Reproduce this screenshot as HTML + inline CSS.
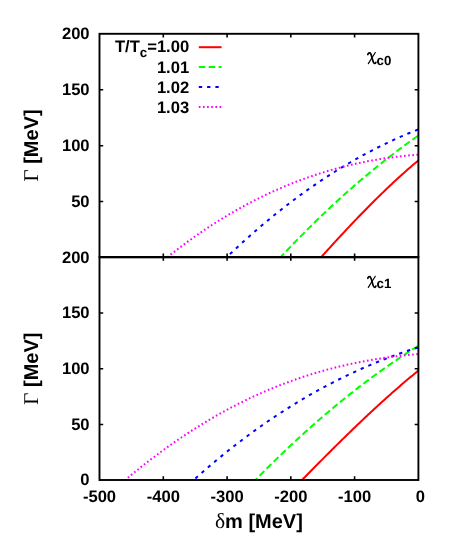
<!DOCTYPE html>
<html><head><meta charset="utf-8"><title>chart</title>
<style>html,body{margin:0;padding:0;background:#fff;}svg{display:block;will-change:transform;}text{font-family:"Liberation Sans",sans-serif;font-weight:bold;fill:#000;text-rendering:geometricPrecision;}.sym{font-family:"Liberation Serif",serif;font-weight:normal;}</style></head>
<body>
<svg width="467" height="550" viewBox="0 0 467 550">
<rect width="467" height="550" fill="#fff"/>
<g fill="none" stroke-width="2.0" stroke-linejoin="round">
<path d="M321.25,257.10 L322.48,255.73 L323.71,254.37 L324.94,253.00 L326.17,251.64 L327.40,250.29 L328.63,248.93 L329.86,247.58 L331.09,246.23 L332.32,244.88 L333.55,243.54 L334.78,242.19 L336.01,240.85 L337.24,239.52 L338.47,238.19 L339.70,236.86 L340.93,235.53 L342.16,234.20 L343.39,232.88 L344.62,231.57 L345.84,230.25 L347.07,228.94 L348.30,227.63 L349.53,226.33 L350.76,225.03 L351.99,223.73 L353.22,222.44 L354.45,221.15 L355.68,219.86 L356.91,218.58 L358.14,217.30 L359.37,216.02 L360.60,214.75 L361.83,213.48 L363.06,212.22 L364.29,210.96 L365.52,209.71 L366.75,208.46 L367.98,207.21 L369.21,205.97 L370.44,204.73 L371.67,203.50 L372.90,202.27 L374.13,201.04 L375.36,199.82 L376.59,198.61 L377.82,197.40 L379.05,196.19 L380.28,194.99 L381.51,193.79 L382.74,192.60 L383.97,191.41 L385.20,190.23 L386.43,189.05 L387.66,187.88 L388.89,186.71 L390.12,185.55 L391.35,184.40 L392.58,183.24 L393.81,182.10 L395.03,180.96 L396.26,179.82 L397.49,178.69 L398.72,177.57 L399.95,176.45 L401.18,175.34 L402.41,174.23 L403.64,173.13 L404.87,172.03 L406.10,170.94 L407.33,169.86 L408.56,168.78 L409.79,167.71 L411.02,166.64 L412.25,165.58 L413.48,164.53 L414.71,163.48 L415.94,162.44 L417.17,161.41 L418.40,160.38" stroke="#ff0000"/>
<path d="M280.70,257.10 L282.45,255.24 L284.19,253.39 L285.93,251.55 L287.68,249.71 L289.42,247.89 L291.16,246.07 L292.91,244.26 L294.65,242.46 L296.39,240.67 L298.13,238.88 L299.88,237.11 L301.62,235.34 L303.36,233.58 L305.11,231.83 L306.85,230.09 L308.59,228.35 L310.34,226.62 L312.08,224.91 L313.82,223.19 L315.56,221.49 L317.31,219.80 L319.05,218.11 L320.79,216.43 L322.54,214.77 L324.28,213.10 L326.02,211.45 L327.77,209.81 L329.51,208.17 L331.25,206.54 L332.99,204.92 L334.74,203.31 L336.48,201.70 L338.22,200.11 L339.97,198.52 L341.71,196.94 L343.45,195.37 L345.20,193.81 L346.94,192.25 L348.68,190.70 L350.42,189.17 L352.17,187.64 L353.91,186.11 L355.65,184.60 L357.40,183.09 L359.14,181.59 L360.88,180.11 L362.62,178.62 L364.37,177.15 L366.11,175.68 L367.85,174.23 L369.60,172.78 L371.34,171.34 L373.08,169.90 L374.83,168.48 L376.57,167.06 L378.31,165.65 L380.05,164.25 L381.80,162.86 L383.54,161.48 L385.28,160.10 L387.03,158.73 L388.77,157.37 L390.51,156.02 L392.26,154.68 L394.00,153.34 L395.74,152.02 L397.48,150.70 L399.23,149.39 L400.97,148.08 L402.71,146.79 L404.46,145.50 L406.20,144.22 L407.94,142.95 L409.69,141.69 L411.43,140.44 L413.17,139.19 L414.91,137.95 L416.66,136.72 L418.40,135.50" stroke="#00ff00" stroke-dasharray="6.62 3.30" stroke-dashoffset="1.8"/>
<path d="M226.84,257.10 L229.27,254.78 L231.69,252.48 L234.12,250.20 L236.54,247.94 L238.97,245.69 L241.39,243.47 L243.82,241.26 L246.24,239.08 L248.67,236.91 L251.09,234.76 L253.52,232.63 L255.94,230.52 L258.37,228.42 L260.79,226.35 L263.22,224.29 L265.64,222.25 L268.07,220.23 L270.49,218.23 L272.92,216.25 L275.34,214.29 L277.76,212.34 L280.19,210.41 L282.61,208.50 L285.04,206.61 L287.46,204.74 L289.89,202.88 L292.31,201.04 L294.74,199.22 L297.16,197.42 L299.59,195.64 L302.01,193.87 L304.44,192.13 L306.86,190.40 L309.29,188.68 L311.71,186.99 L314.14,185.31 L316.56,183.65 L318.99,182.01 L321.41,180.39 L323.83,178.78 L326.26,177.19 L328.68,175.62 L331.11,174.07 L333.53,172.53 L335.96,171.01 L338.38,169.51 L340.81,168.02 L343.23,166.56 L345.66,165.11 L348.08,163.67 L350.51,162.26 L352.93,160.86 L355.36,159.48 L357.78,158.11 L360.21,156.76 L362.63,155.43 L365.06,154.12 L367.48,152.82 L369.91,151.54 L372.33,150.27 L374.75,149.03 L377.18,147.79 L379.60,146.58 L382.03,145.38 L384.45,144.20 L386.88,143.04 L389.30,141.89 L391.73,140.76 L394.15,139.64 L396.58,138.54 L399.00,137.46 L401.43,136.39 L403.85,135.34 L406.28,134.31 L408.70,133.29 L411.13,132.29 L413.55,131.30 L415.98,130.34 L418.40,129.38" stroke="#0000ff" stroke-dasharray="3.32 4.97" stroke-dashoffset="4.01"/>
<path d="M167.53,257.10 L170.71,254.58 L173.89,252.10 L177.06,249.65 L180.24,247.23 L183.41,244.86 L186.59,242.51 L189.76,240.20 L192.94,237.93 L196.11,235.69 L199.29,233.48 L202.47,231.31 L205.64,229.17 L208.82,227.06 L211.99,224.99 L215.17,222.95 L218.34,220.95 L221.52,218.98 L224.69,217.04 L227.87,215.13 L231.05,213.26 L234.22,211.42 L237.40,209.61 L240.57,207.83 L243.75,206.09 L246.92,204.37 L250.10,202.69 L253.27,201.04 L256.45,199.43 L259.62,197.84 L262.80,196.28 L265.98,194.76 L269.15,193.27 L272.33,191.80 L275.50,190.37 L278.68,188.97 L281.85,187.60 L285.03,186.25 L288.20,184.94 L291.38,183.66 L294.56,182.40 L297.73,181.18 L300.91,179.98 L304.08,178.82 L307.26,177.68 L310.43,176.57 L313.61,175.49 L316.78,174.44 L319.96,173.42 L323.13,172.42 L326.31,171.45 L329.49,170.51 L332.66,169.60 L335.84,168.71 L339.01,167.85 L342.19,167.02 L345.36,166.22 L348.54,165.44 L351.71,164.69 L354.89,163.96 L358.07,163.26 L361.24,162.59 L364.42,161.94 L367.59,161.31 L370.77,160.72 L373.94,160.14 L377.12,159.60 L380.29,159.07 L383.47,158.57 L386.64,158.10 L389.82,157.65 L393.00,157.23 L396.17,156.82 L399.35,156.44 L402.52,156.09 L405.70,155.76 L408.87,155.45 L412.05,155.16 L415.22,154.90 L418.40,154.66" stroke="#ff00ff" stroke-dasharray="1.66 2.485" stroke-dashoffset="0.23"/>
<path d="M302.00,480.00 L303.47,478.50 L304.95,476.99 L306.42,475.49 L307.89,473.99 L309.37,472.50 L310.84,471.00 L312.31,469.51 L313.79,468.01 L315.26,466.52 L316.73,465.03 L318.21,463.54 L319.68,462.06 L321.15,460.58 L322.63,459.09 L324.10,457.61 L325.57,456.14 L327.05,454.66 L328.52,453.19 L329.99,451.72 L331.47,450.25 L332.94,448.79 L334.42,447.33 L335.89,445.87 L337.36,444.41 L338.84,442.96 L340.31,441.50 L341.78,440.06 L343.26,438.61 L344.73,437.17 L346.20,435.73 L347.68,434.30 L349.15,432.86 L350.62,431.44 L352.10,430.01 L353.57,428.59 L355.04,427.17 L356.52,425.76 L357.99,424.34 L359.46,422.94 L360.94,421.54 L362.41,420.14 L363.88,418.74 L365.36,417.35 L366.83,415.96 L368.30,414.58 L369.78,413.20 L371.25,411.83 L372.72,410.46 L374.20,409.09 L375.67,407.73 L377.14,406.38 L378.62,405.03 L380.09,403.68 L381.56,402.34 L383.04,401.00 L384.51,399.67 L385.98,398.34 L387.46,397.02 L388.93,395.70 L390.41,394.39 L391.88,393.09 L393.35,391.79 L394.83,390.49 L396.30,389.20 L397.77,387.92 L399.25,386.64 L400.72,385.37 L402.19,384.10 L403.67,382.84 L405.14,381.58 L406.61,380.33 L408.09,379.09 L409.56,377.85 L411.03,376.62 L412.51,375.40 L413.98,374.18 L415.45,372.97 L416.93,371.76 L418.40,370.56" stroke="#ff0000"/>
<path d="M255.50,480.00 L257.57,477.89 L259.63,475.80 L261.69,473.71 L263.75,471.64 L265.81,469.57 L267.88,467.52 L269.94,465.47 L272.00,463.44 L274.06,461.42 L276.12,459.40 L278.19,457.40 L280.25,455.41 L282.31,453.43 L284.37,451.45 L286.43,449.49 L288.50,447.54 L290.56,445.60 L292.62,443.67 L294.68,441.75 L296.74,439.84 L298.81,437.94 L300.87,436.05 L302.93,434.17 L304.99,432.30 L307.05,430.44 L309.12,428.60 L311.18,426.76 L313.24,424.93 L315.30,423.11 L317.36,421.31 L319.43,419.51 L321.49,417.73 L323.55,415.95 L325.61,414.19 L327.67,412.44 L329.74,410.69 L331.80,408.96 L333.86,407.24 L335.92,405.53 L337.98,403.83 L340.05,402.14 L342.11,400.46 L344.17,398.79 L346.23,397.13 L348.29,395.48 L350.36,393.85 L352.42,392.22 L354.48,390.61 L356.54,389.00 L358.60,387.41 L360.67,385.82 L362.73,384.25 L364.79,382.69 L366.85,381.14 L368.91,379.60 L370.97,378.07 L373.04,376.55 L375.10,375.04 L377.16,373.54 L379.22,372.05 L381.28,370.58 L383.35,369.11 L385.41,367.66 L387.47,366.21 L389.53,364.78 L391.59,363.36 L393.66,361.95 L395.72,360.55 L397.78,359.16 L399.84,357.78 L401.90,356.41 L403.97,355.05 L406.03,353.71 L408.09,352.37 L410.15,351.05 L412.21,349.73 L414.28,348.43 L416.34,347.14 L418.40,345.86" stroke="#00ff00" stroke-dasharray="6.62 3.30" stroke-dashoffset="4.0"/>
<path d="M193.63,480.00 L196.48,477.45 L199.33,474.93 L202.17,472.44 L205.02,469.96 L207.86,467.51 L210.71,465.09 L213.55,462.69 L216.40,460.31 L219.24,457.96 L222.09,455.63 L224.93,453.32 L227.78,451.04 L230.62,448.78 L233.47,446.55 L236.31,444.33 L239.16,442.15 L242.00,439.98 L244.85,437.84 L247.69,435.72 L250.54,433.62 L253.38,431.54 L256.23,429.49 L259.07,427.46 L261.92,425.46 L264.76,423.47 L267.61,421.51 L270.45,419.57 L273.30,417.66 L276.14,415.76 L278.99,413.89 L281.83,412.04 L284.68,410.21 L287.52,408.40 L290.37,406.61 L293.21,404.85 L296.06,403.11 L298.90,401.38 L301.75,399.68 L304.59,398.01 L307.44,396.35 L310.29,394.71 L313.13,393.10 L315.98,391.50 L318.82,389.93 L321.67,388.37 L324.51,386.84 L327.36,385.33 L330.20,383.84 L333.05,382.37 L335.89,380.92 L338.74,379.49 L341.58,378.08 L344.43,376.69 L347.27,375.32 L350.12,373.97 L352.96,372.64 L355.81,371.32 L358.65,370.03 L361.50,368.76 L364.34,367.51 L367.19,366.28 L370.03,365.06 L372.88,363.87 L375.72,362.70 L378.57,361.54 L381.41,360.40 L384.26,359.29 L387.10,358.19 L389.95,357.11 L392.79,356.04 L395.64,355.00 L398.48,353.98 L401.33,352.97 L404.17,351.98 L407.02,351.01 L409.86,350.06 L412.71,349.13 L415.55,348.21 L418.40,347.31" stroke="#0000ff" stroke-dasharray="3.32 4.97" stroke-dashoffset="5.94"/>
<path d="M125.23,480.00 L128.94,476.90 L132.65,473.84 L136.36,470.82 L140.07,467.84 L143.79,464.91 L147.50,462.01 L151.21,459.15 L154.92,456.34 L158.63,453.57 L162.34,450.84 L166.05,448.15 L169.76,445.50 L173.47,442.89 L177.18,440.32 L180.90,437.79 L184.61,435.31 L188.32,432.86 L192.03,430.46 L195.74,428.10 L199.45,425.78 L203.16,423.49 L206.87,421.25 L210.58,419.05 L214.29,416.89 L218.01,414.77 L221.72,412.70 L225.43,410.66 L229.14,408.66 L232.85,406.70 L236.56,404.78 L240.27,402.90 L243.98,401.06 L247.69,399.26 L251.40,397.49 L255.12,395.77 L258.83,394.08 L262.54,392.44 L266.25,390.83 L269.96,389.26 L273.67,387.72 L277.38,386.23 L281.09,384.77 L284.80,383.35 L288.51,381.97 L292.23,380.62 L295.94,379.31 L299.65,378.03 L303.36,376.79 L307.07,375.58 L310.78,374.42 L314.49,373.28 L318.20,372.18 L321.91,371.11 L325.62,370.08 L329.34,369.08 L333.05,368.11 L336.76,367.18 L340.47,366.28 L344.18,365.41 L347.89,364.57 L351.60,363.76 L355.31,362.99 L359.02,362.24 L362.73,361.53 L366.45,360.84 L370.16,360.18 L373.87,359.55 L377.58,358.95 L381.29,358.38 L385.00,357.83 L388.71,357.31 L392.42,356.82 L396.13,356.35 L399.84,355.91 L403.56,355.50 L407.27,355.10 L410.98,354.73 L414.69,354.39 L418.40,354.06" stroke="#ff00ff" stroke-dasharray="1.66 2.485" stroke-dashoffset="0.77"/>
</g>
<path d="M198.8,47.2 L221.6,47.2" fill="none" stroke-width="2.0" stroke="#ff0000"/>
<path d="M198.8,67.1 L221.6,67.1" fill="none" stroke-width="2.0" stroke="#00ff00" stroke-dasharray="6.62 3.30"/>
<path d="M198.8,87.0 L221.6,87.0" fill="none" stroke-width="2.0" stroke="#0000ff" stroke-dasharray="3.32 4.97"/>
<path d="M198.8,106.9 L221.6,106.9" fill="none" stroke-width="2.0" stroke="#ff00ff" stroke-dasharray="1.66 2.485"/>
<g fill="none" stroke="#000" stroke-width="1.9">
<rect x="99.5" y="33.8" width="318.9" height="223.3"/>
<rect x="99.5" y="257.1" width="318.9" height="222.9"/>
</g>
<path d="M99.5,257.1 H418.4" fill="none" stroke="#000" stroke-width="2.2"/>
<g fill="none" stroke="#000" stroke-width="1.6">
<path d="M163.3,257.1 v-3.7 M163.3,33.8 v3.7"/>
<path d="M227.1,257.1 v-3.7 M227.1,33.8 v3.7"/>
<path d="M290.8,257.1 v-3.7 M290.8,33.8 v3.7"/>
<path d="M354.6,257.1 v-3.7 M354.6,33.8 v3.7"/>
<path d="M99.5,201.5 h3.7 M418.4,201.5 h-3.7"/>
<path d="M99.5,145.7 h3.7 M418.4,145.7 h-3.7"/>
<path d="M99.5,89.8 h3.7 M418.4,89.8 h-3.7"/>
<path d="M163.3,480.0 v-3.7 M163.3,257.1 v3.7"/>
<path d="M227.1,480.0 v-3.7 M227.1,257.1 v3.7"/>
<path d="M290.8,480.0 v-3.7 M290.8,257.1 v3.7"/>
<path d="M354.6,480.0 v-3.7 M354.6,257.1 v3.7"/>
<path d="M99.5,424.5 h3.7 M418.4,424.5 h-3.7"/>
<path d="M99.5,368.8 h3.7 M418.4,368.8 h-3.7"/>
<path d="M99.5,313.0 h3.7 M418.4,313.0 h-3.7"/>
</g>
<g font-size="16.6" text-anchor="end">
<text x="89.6" y="206.7">50</text>
<text x="89.6" y="150.9">100</text>
<text x="89.6" y="95.0">150</text>
<text x="89.6" y="39.2">200</text>
<text x="89.6" y="485.4">0</text>
<text x="89.6" y="429.7">50</text>
<text x="89.6" y="373.9">100</text>
<text x="89.6" y="318.2">150</text>
<text x="89.6" y="262.5">200</text>
</g>
<g font-size="16.6" text-anchor="middle">
<text x="99.5" y="502.4">-500</text>
<text x="163.3" y="502.4">-400</text>
<text x="227.1" y="502.4">-300</text>
<text x="290.8" y="502.4">-200</text>
<text x="354.6" y="502.4">-100</text>
<text x="420.4" y="502.4">0</text>
</g>
<g font-size="16.6" text-anchor="end">
<text x="189.2" y="52.0">T/T<tspan font-size="13.3" dy="4.8">c</tspan><tspan dy="-4.8">=1.00</tspan></text>
<text x="189.2" y="72.9">1.01</text>
<text x="189.2" y="92.8">1.02</text>
<text x="189.2" y="112.7">1.03</text>
</g>
<g transform="translate(0,0)"><path d="M367.8,54.5 C368.3,53.1 369.3,52.4 370.2,53.0 C371.2,53.8 371.8,57.0 372.6,59.8 C373.2,62.2 374.0,63.7 374.9,63.5 C375.4,63.4 375.7,62.9 375.9,62.3" fill="none" stroke="#000" stroke-width="1.7" stroke-linecap="round"/><path d="M375.3,52.5 L368.3,63.6" fill="none" stroke="#000" stroke-width="1.15" stroke-linecap="round"/><text x="376.6" y="64.6" font-size="13.3">c0</text></g>
<g transform="translate(0,223.8)"><path d="M367.8,54.5 C368.3,53.1 369.3,52.4 370.2,53.0 C371.2,53.8 371.8,57.0 372.6,59.8 C373.2,62.2 374.0,63.7 374.9,63.5 C375.4,63.4 375.7,62.9 375.9,62.3" fill="none" stroke="#000" stroke-width="1.7" stroke-linecap="round"/><path d="M375.3,52.5 L368.3,63.6" fill="none" stroke="#000" stroke-width="1.15" stroke-linecap="round"/><text x="376.6" y="64.6" font-size="13.3">c1</text></g>
<text x="258.9" y="528.0" font-size="20" text-anchor="middle"><tspan class="sym" font-size="21.5">δ</tspan>m [MeV]</text>
<text transform="translate(38.2,145.5) rotate(-90)" font-size="20" text-anchor="middle"><tspan class="sym" font-size="21">Γ</tspan> [MeV]</text>
<text transform="translate(38.2,368.6) rotate(-90)" font-size="20" text-anchor="middle"><tspan class="sym" font-size="21">Γ</tspan> [MeV]</text>
</svg>
</body></html>
